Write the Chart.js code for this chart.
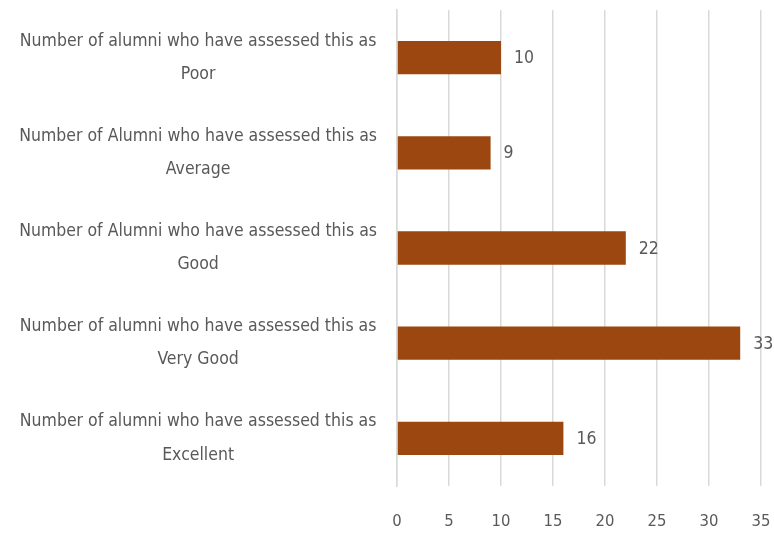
<!DOCTYPE html>
<html>
<head>
<meta charset="utf-8">
<script src="https://cdn.jsdelivr.net/npm/chart.js@4/dist/chart.umd.min.js"></script>
<style>
  html, body { margin: 0; padding: 0; background: #fff; }
  #wrap { width: 774px; height: 535px; }
</style>
</head>
<body>
<div id="wrap"><canvas id="chart" width="774" height="535"></canvas></div>
<script>
// Categories (two-line labels, top to bottom as drawn)
const categories = [
    ['Number of alumni who have assessed this as', 'Poor'],
    ['Number of Alumni who have assessed this as', 'Average'],
    ['Number of Alumni who have assessed this as', 'Good'],
    ['Number of alumni who have assessed this as', 'Very Good'],
    ['Number of alumni who have assessed this as', 'Excellent']
];
const alumniCounts = [10, 9, 22, 33, 16];
const xTicks = [0, 5, 10, 15, 20, 25, 30, 35];

const FONT = '"Liberation Sans Narrow", "DejaVu Sans Condensed", sans-serif';
const TEXT = '#595959';

// Simple value labels at the end of each bar
const valueLabels = {
    id: 'valueLabels',
    afterDatasetsDraw(chart) {
        const ctx = chart.ctx;
        const meta = chart.getDatasetMeta(0);
        ctx.save();
        ctx.font = '17.5px ' + FONT;
        ctx.fillStyle = TEXT;
        ctx.textAlign = 'left';
        ctx.textBaseline = 'middle';
        meta.data.forEach((bar, i) => {
            ctx.fillText(String(alumniCounts[i]), bar.x + 13, bar.y + 1);
        });
        ctx.restore();
    }
};

new Chart(document.getElementById('chart').getContext('2d'), {
    type: 'bar',
    data: {
        labels: categories,
        datasets: [{
            data: alumniCounts,
            backgroundColor: '#9C4710',
            borderWidth: 0,
            categoryPercentage: 0.35,
            barPercentage: 1
        }]
    },
    options: {
        indexAxis: 'y',
        responsive: false,
        animation: false,
        layout: { padding: { top: 10, right: 13, bottom: 0, left: 0 } },
        plugins: {
            legend: { display: false },
            tooltip: { enabled: false }
        },
        scales: {
            x: {
                min: 0,
                max: 35,
                afterBuildTicks: (scale) => {
                    scale.ticks = xTicks.map(v => ({ value: v }));
                },
                afterFit: (scale) => {
                    scale.height = 49;
                    scale.paddingLeft = 0;
                    scale.paddingRight = 0;
                },
                grid: { color: '#D9D9D9', lineWidth: 1.5, drawTicks: false },
                border: { display: false },
                ticks: {
                    color: TEXT,
                    font: { family: FONT, size: 16.5 },
                    padding: 26
                }
            },
            y: {
                grid: { display: false, drawTicks: false },
                border: { display: true, color: '#D9D9D9', width: 1.5 },
                afterFit: (scale) => {
                    scale.width = 397;
                    scale.paddingTop = 0;
                    scale.paddingBottom = 0;
                },
                ticks: {
                    color: TEXT,
                    crossAlign: 'center',
                    padding: 20,
                    font: { family: FONT, size: 17.5, lineHeight: 1.9 }
                }
            }
        }
    },
    plugins: [valueLabels]
});
</script>
</body>
</html>
